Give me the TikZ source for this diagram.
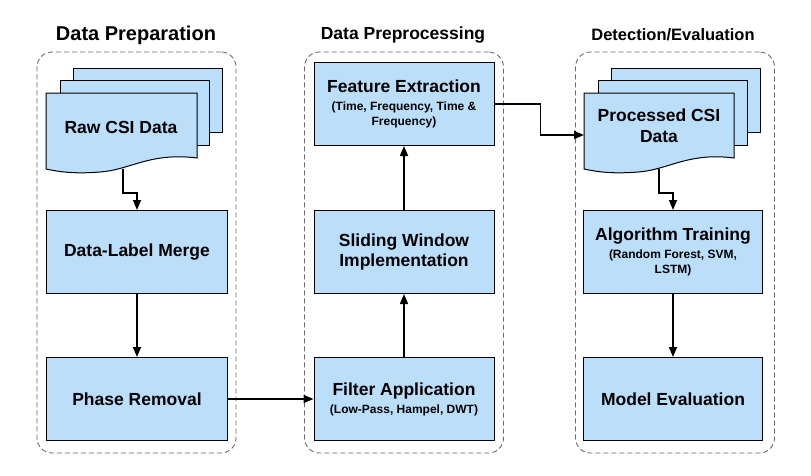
\documentclass[tikz,border=0pt]{standalone}
\usepackage{fontspec}
\setmainfont{Liberation Sans}
\usetikzlibrary{arrows.meta}
\usetikzlibrary{positioning}

\definecolor{boxblue}{RGB}{187,222,251}
\definecolor{grpgray}{RGB}{105,105,105}
\newcommand{\subtxt}[1]{{\fontsize{12}{14}\selectfont #1}}

\begin{document}
\begin{tikzpicture}[x=1pt, y=-1pt,
	procbox/.style={rectangle, draw, line width=1pt, fill=boxblue, minimum width=181pt, minimum height=83pt, align=center, font=\bfseries\fontsize{17.5}{20}\selectfont},
	sheet/.style={draw, line width=1pt, fill=boxblue},
	groupbox/.style={rectangle, draw=grpgray, line width=0.9pt, dash pattern=on 5pt off 3pt, rounded corners=15pt, minimum width=199pt, minimum height=401pt},
	grouptitle/.style={font=\bfseries\fontsize{17.5}{20}\selectfont},
	flow/.style={line width=1.5pt, -{Triangle[length=10pt, width=8pt]}},
	]
	\useasboundingbox (0,0) rectangle (811,475);

	% Groups
	\node[groupbox] (prepgrp) at (136.5,252.5) {};
	\node[groupbox] (pregrp) at (404,252.5) {};
	\node[groupbox] (detgrp) at (675,252.5) {};

	% Titles
	\node[grouptitle, font=\bfseries\fontsize{20}{24}\selectfont] (preptitle) at (136,35) {Data Preparation};
	\node[grouptitle] (pretitle) at (403,35) {Data Preprocessing};
	\node[grouptitle, font=\bfseries\fontsize{16.5}{20}\selectfont] (dettitle) at (673,35) {Detection/Evaluation};

	% Raw data sheets
	\draw[sheet] (73,68) rectangle (222,132);
	\draw[sheet] (60,80) rectangle (209,145);
	\draw[sheet] (46,93) -- (197,93) -- (197,158)
		.. controls (150,152) and (130,170) .. (100,172)
		.. controls (75,174) and (60,172) .. (46,169) -- cycle;
	\node[font=\bfseries\fontsize{17.5}{20}\selectfont] (raw) at (121,127) {Raw CSI Data};
	\coordinate (rawout) at (123,169);

	% Processed data sheets
	\draw[sheet] (611,68) rectangle (760,132);
	\draw[sheet] (598,80) rectangle (747,145);
	\draw[sheet] (584,93) -- (734,93) -- (734,158)
		.. controls (688,152) and (668,170) .. (638,172)
		.. controls (613,174) and (598,172) .. (584,169) -- cycle;
	\node[font=\bfseries\fontsize{17.5}{21}\selectfont, align=center] (proc) at (659,126) {Processed CSI\\Data};
	\coordinate (procout) at (659,169);
	\coordinate (procin) at (584,135);

	% Boxes
	\node[procbox] (merge) at (137,252) {Data-Label Merge};
	\node[procbox] (phase) at (137,399) {Phase Removal};
	\node[procbox, minimum width=180pt] (feat) at (404,104) {Feature Extraction\\[-2pt]\subtxt{(Time, Frequency, Time \&}\\[-5pt]\subtxt{Frequency)}};
	\node[procbox, minimum width=180pt] (slide) at (404,252) {Sliding Window\\Implementation};
	\node[procbox, minimum width=180pt] (filt) at (404,399) {Filter Application\\[-2pt]\subtxt{(Low-Pass, Hampel, DWT)}};
	\node[procbox, minimum width=179pt] (algo) at (673,252) {Algorithm Training\\[-2pt]\subtxt{(Random Forest, SVM,}\\[-5pt]\subtxt{LSTM)}};
	\node[procbox, minimum width=179pt] (model) at (673,399) {Model Evaluation};

	% Arrows
	\draw[flow] (rawout) -- ++(0,24) -| (merge.north);
	\draw[flow] (merge) -- (phase);
	\draw[flow] (phase) -- (filt);
	\draw[flow] (filt) -- (slide);
	\draw[flow] (slide) -- (feat);
	\draw[flow] (feat.east) -- ++(46,0) |- (procin);
	\draw[flow] (procout) -- ++(0,24) -| (algo.north);
	\draw[flow] (algo) -- (model);
\end{tikzpicture}
\end{document}
